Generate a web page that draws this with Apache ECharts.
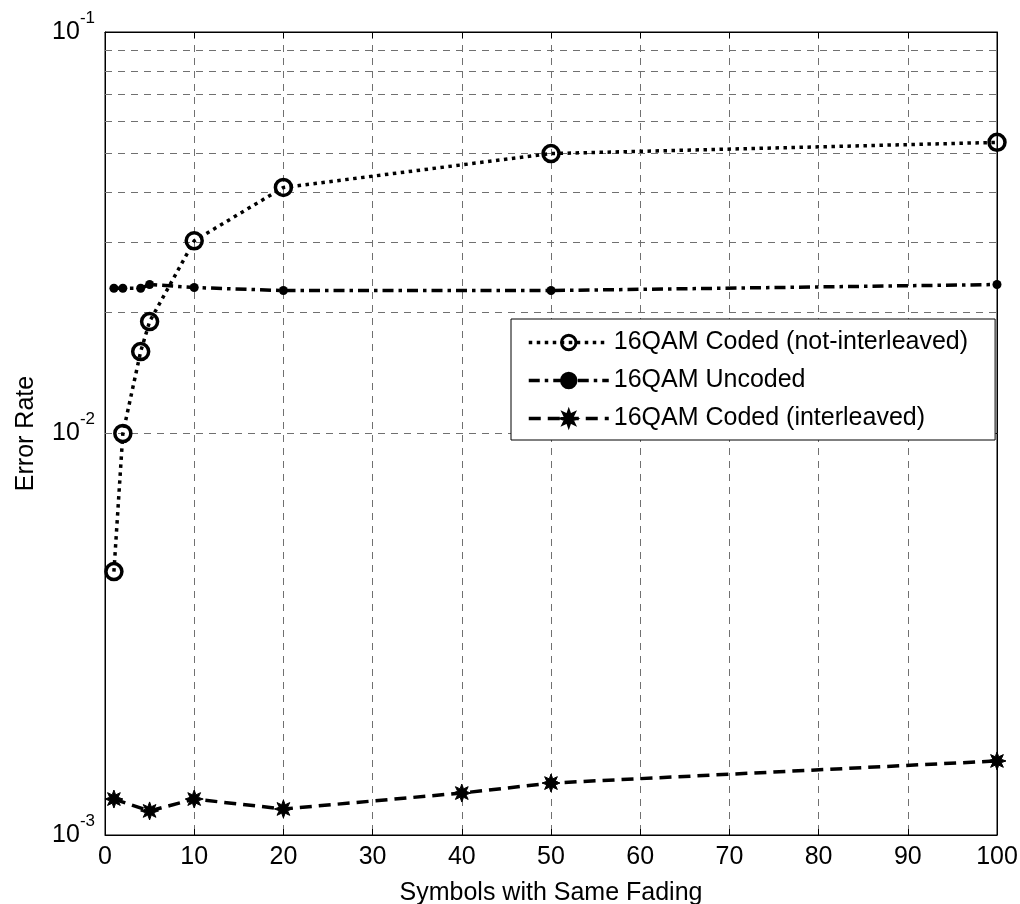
<!DOCTYPE html>
<html>
<head>
<meta charset="utf-8">
<script src="https://cdn.jsdelivr.net/npm/echarts@6/dist/echarts.min.js"></script>
<style>html,body{margin:0;padding:0;background:#fff}#c{width:1020px;height:904px}</style>
</head>
<body>
<div id="c"></div>
<script>
const xCoded = [1, 2, 4, 5, 10, 20, 50, 100];
const yCoded = [0.00453, 0.0100, 0.0160, 0.0190, 0.0302, 0.0410, 0.0498, 0.0531];
const xUncoded = [1, 2, 4, 5, 10, 20, 50, 100];
const yUncoded = [0.0230, 0.0230, 0.0230, 0.0235, 0.0231, 0.0227, 0.0227, 0.0235];
const xInter = [1, 5, 10, 20, 40, 50, 100];
const yInter = [0.001229, 0.001148, 0.001229, 0.001161, 0.001272, 0.001347, 0.001529];
const minorGrid = [0.002, 0.003, 0.004, 0.005, 0.006, 0.007, 0.008, 0.009,
                   0.02, 0.03, 0.04, 0.05, 0.06, 0.07, 0.08, 0.09];
const names = ['16QAM Coded (not-interleaved)', '16QAM Uncoded', '16QAM Coded (interleaved)'];

const FONT = '"Liberation Sans", Arial, sans-serif';
const FS = 25;
const starPath = (function () {
  let d = '';
  const n = 8, ro = 10, ri = 5;
  for (let i = 0; i < 2 * n; i++) {
    const r = i % 2 === 0 ? ro : ri;
    const a = Math.PI * i / n - Math.PI / 2;
    d += (i === 0 ? 'M' : 'L') + (r * Math.cos(a)).toFixed(3) + ' ' + (r * Math.sin(a)).toFixed(3) + ' ';
  }
  return 'path://' + d + 'Z';
})();

const zip = (xs, ys) => xs.map((x, i) => [x, ys[i]]);
const gridLine = { show: true, lineStyle: { color: '#707070', width: 1, type: [7, 6] } };

const chart = echarts.init(document.getElementById('c'), null, { renderer: 'canvas' });
chart.setOption({
  animation: false,
  backgroundColor: '#fff',
  textStyle: { fontFamily: FONT },
  grid: { left: 105, right: 23, top: 32, bottom: 69, show: true, borderColor: '#000', borderWidth: 1,
          containLabel: false, outerBoundsMode: 'none' },
  legend: {
    orient: 'vertical',
    left: 511, top: 319,
    data: names,
    itemWidth: 80, itemHeight: 18, itemGap: 11,
    padding: [10, 27, 8, 16],
    backgroundColor: '#fff',
    borderColor: '#000', borderWidth: 1,
    lineStyle: { width: 3.5 },
    itemStyle: { borderWidth: 3, borderColor: '#000' },
    textStyle: { fontFamily: FONT, fontSize: FS, color: '#000', lineHeight: 27 }
  },
  xAxis: [{
    type: 'value', min: 0, max: 100, interval: 10,
    name: 'Symbols with Same Fading', nameLocation: 'middle', nameGap: 46,
    nameTextStyle: { fontFamily: FONT, fontSize: FS, color: '#000' },
    axisLine: { show: true, onZero: false, lineStyle: { color: '#000', width: 1 } },
    axisTick: { show: true, inside: true, length: 6, lineStyle: { color: '#000' } },
    axisLabel: { fontFamily: FONT, fontSize: FS, color: '#000', margin: 10 },
    splitLine: gridLine
  }, {
    type: 'value', min: 0, max: 100, interval: 10, position: 'top',
    axisLine: { show: true, onZero: false, lineStyle: { color: '#000', width: 1 } },
    axisTick: { show: true, inside: true, length: 6, lineStyle: { color: '#000' } },
    axisLabel: { show: false }, splitLine: { show: false }
  }],
  yAxis: [{
    type: 'log', logBase: 10, min: 0.001, max: 0.1,
    name: 'Error Rate', nameLocation: 'middle', nameGap: 66, nameRotate: 90,
    nameTextStyle: { fontFamily: FONT, fontSize: FS, color: '#000' },
    axisLine: { show: true, onZero: false, lineStyle: { color: '#000', width: 1 } },
    axisTick: { show: true, inside: true, length: 6, lineStyle: { color: '#000' } },
    axisLabel: {
      margin: 10,
      formatter: function (v) { return '{a|10}{b|' + Math.round(Math.log10(v)) + '}'; },
      rich: {
        a: { fontFamily: FONT, fontSize: FS, color: '#000' },
        b: { fontFamily: FONT, fontSize: 17, color: '#000', padding: [0, 0, 28, 0] }
      }
    },
    splitLine: gridLine
  }, {
    type: 'log', logBase: 10, min: 0.001, max: 0.1, position: 'right',
    axisLine: { show: true, onZero: false, lineStyle: { color: '#000', width: 1 } },
    axisTick: { show: true, inside: true, length: 6, lineStyle: { color: '#000' } },
    axisLabel: { show: false }, splitLine: { show: false }
  }],
  series: [{
    name: names[0], type: 'line', data: zip(xCoded, yCoded),
    symbol: 'circle', symbolSize: 16,
    lineStyle: { color: '#000', width: 3.5, type: [3.5, 4.5] },
    itemStyle: { color: 'rgba(0,0,0,0)', borderColor: '#000', borderWidth: 3.5 },
    z: 5,
    markLine: {
      silent: true, symbol: ['none', 'none'], label: { show: false },
      lineStyle: { color: '#707070', width: 1, type: [7, 6] },
      emphasis: { disabled: true },
      data: minorGrid.map(v => ({ yAxis: v })),
      z: 1
    }
  }, {
    name: names[1], type: 'line', data: zip(xUncoded, yUncoded),
    symbol: 'circle', symbolSize: 9,
    lineStyle: { color: '#000', width: 3.5, type: [11, 5, 3.5, 5] },
    itemStyle: { color: '#000' },
    z: 5
  }, {
    name: names[2], type: 'line', data: zip(xInter, yInter),
    symbol: starPath, symbolSize: 18,
    lineStyle: { color: '#000', width: 3.5, type: [12, 7] },
    itemStyle: { color: '#000', borderColor: '#000', borderWidth: 1 },
    z: 5
  }]
});
</script>
</body>
</html>
